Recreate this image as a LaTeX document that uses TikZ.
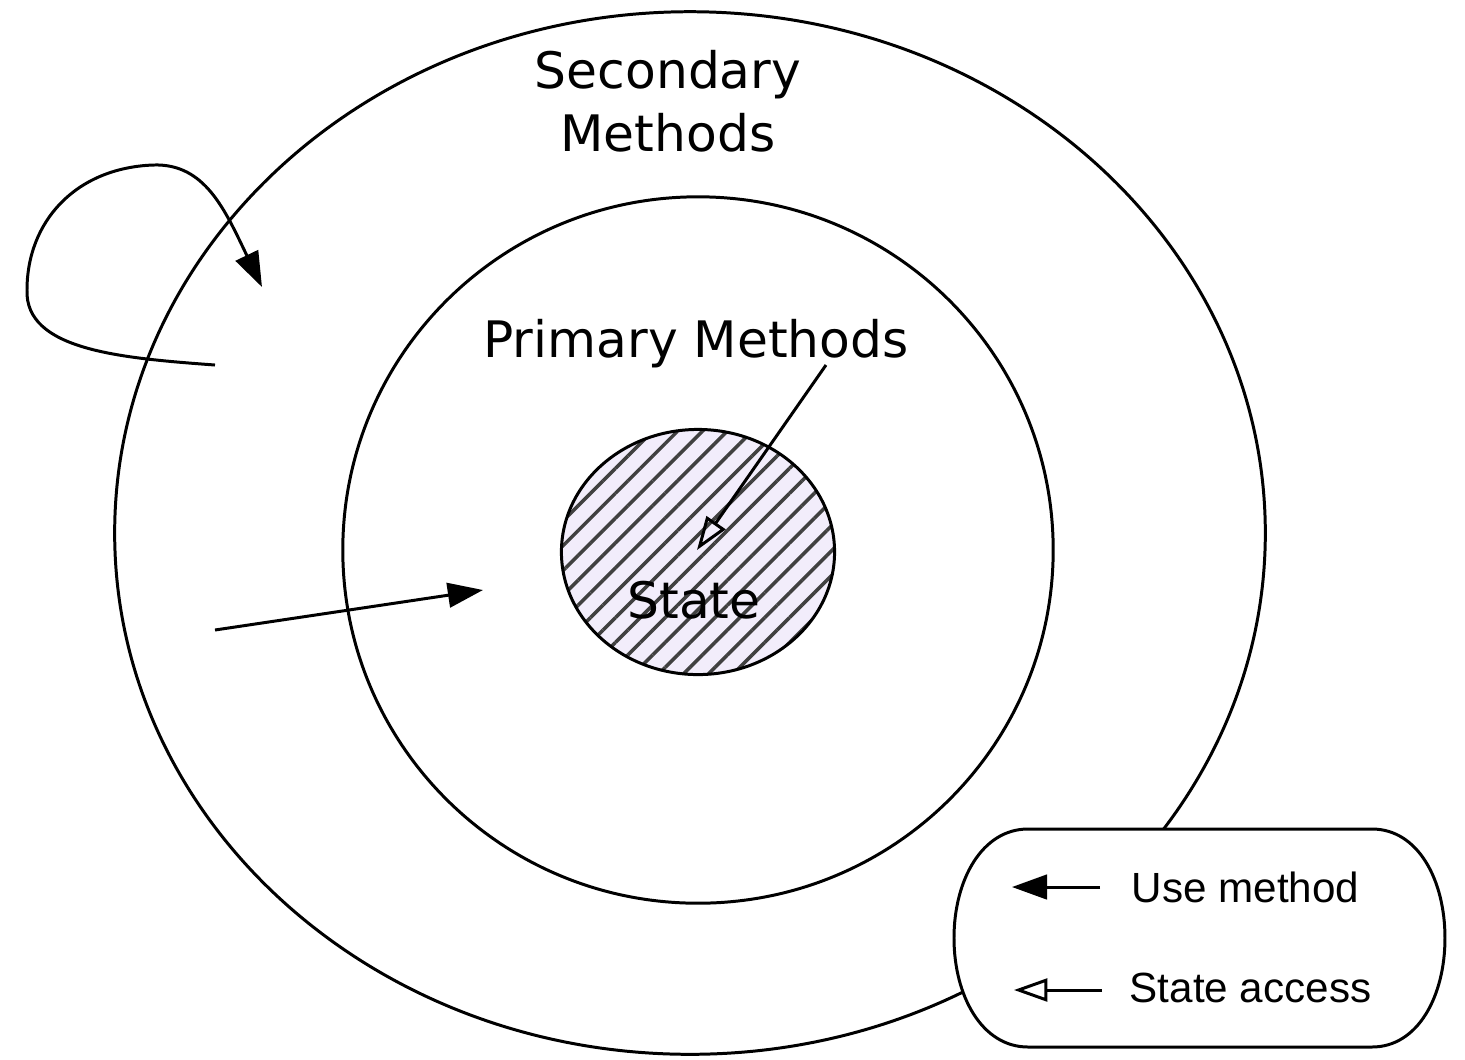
\documentclass[tikz,border=0pt]{standalone}
\usepackage{fontspec}
\setmainfont{DejaVu Sans}
\newfontfamily\legendfont{Liberation Sans}
\usetikzlibrary{positioning, shapes.geometric, arrows.meta, patterns.meta}
\definecolor{statefill}{HTML}{F2EDFB}
\tikzstyle{ring} = [ellipse, draw=black, line width=0.85pt, inner sep=0pt]
\tikzstyle{statering} = [ring, preaction={fill=statefill}, pattern={Lines[angle=45, distance=5pt, line width=1pt]}, pattern color=black!75]
\tikzstyle{title} = [font=\fontsize{14.3}{17.9}\selectfont, align=center, inner sep=0pt]
\tikzstyle{legendframe} = [draw=black, line width=0.85pt, fill=white]
\tikzstyle{legendtext} = [font=\legendfont\fontsize{12}{14}\selectfont, inner sep=0pt, anchor=base west]
\tikzstyle{usearrow} = [line width=0.85pt, -{Triangle[length=10pt, width=7pt]}]
\tikzstyle{accessarrow} = [line width=0.85pt, -{Triangle[open, length=9.5pt, width=6.5pt]}]

\begin{document}
\begin{tikzpicture}[x=0.01cm, y=-0.01cm]
\useasboundingbox (0,0) rectangle (1465,1059);

\node (SECONDARY) [ring, minimum width=11.5cm, minimum height=10.42cm] at (690,533) {};
\node (PRIMARY) [ring, minimum width=7.1cm, minimum height=7.06cm] at (698,550) {};
\node (STATE) [statering, minimum width=2.73cm, minimum height=2.45cm] at (698,552) {};

\node (SECONDARY_LABEL) [title] at (668,101) {Secondary\\Methods};
\node (PRIMARY_LABEL) [title] at (696,344) {Primary Methods};
\node (STATE_LABEL) [title] at (694,600) {State};

% arrows coming in from outside
\coordinate (LOOP_FROM) at (215,365);
\coordinate (LOOP_TO) at (262,287);
\coordinate (OUTER_FROM) at (215,630);
\coordinate (OUTER_TO) at (483,590);
\coordinate (ACCESS_FROM) at (826,365);
\coordinate (ACCESS_TO) at (697,550);

\draw [usearrow] (LOOP_FROM) .. controls (120,358) and (25,350) .. (27,290)
  .. controls (27,222) and (75,168) .. (153,165)
  .. controls (205,163) and (225,210) .. (LOOP_TO);
\draw [usearrow] (OUTER_FROM) -- (OUTER_TO);
\draw [accessarrow] (ACCESS_FROM) -- (ACCESS_TO);

% legend
\draw [legendframe] (1028,829) -- (1372,829)
  .. controls (1418,829) and (1445,880) .. (1445,938)
  .. controls (1445,996) and (1418,1047) .. (1372,1047) -- (1028,1047)
  .. controls (982,1047) and (954,996) .. (954,938)
  .. controls (954,880) and (982,829) .. cycle;
\node (USE_TEXT) [legendtext] at (1131,902) {Use method};
\node (ACCESS_TEXT) [legendtext] at (1129,1002) {State access};
\coordinate (USE_FROM) at (1100,887);
\coordinate (USE_TO) at (1012,887);
\coordinate (KEY_FROM) at (1102,990);
\coordinate (KEY_TO) at (1014,990);
\draw [usearrow] (USE_FROM) -- (USE_TO);
\draw [accessarrow] (KEY_FROM) -- (KEY_TO);

\end{tikzpicture}
\end{document}
